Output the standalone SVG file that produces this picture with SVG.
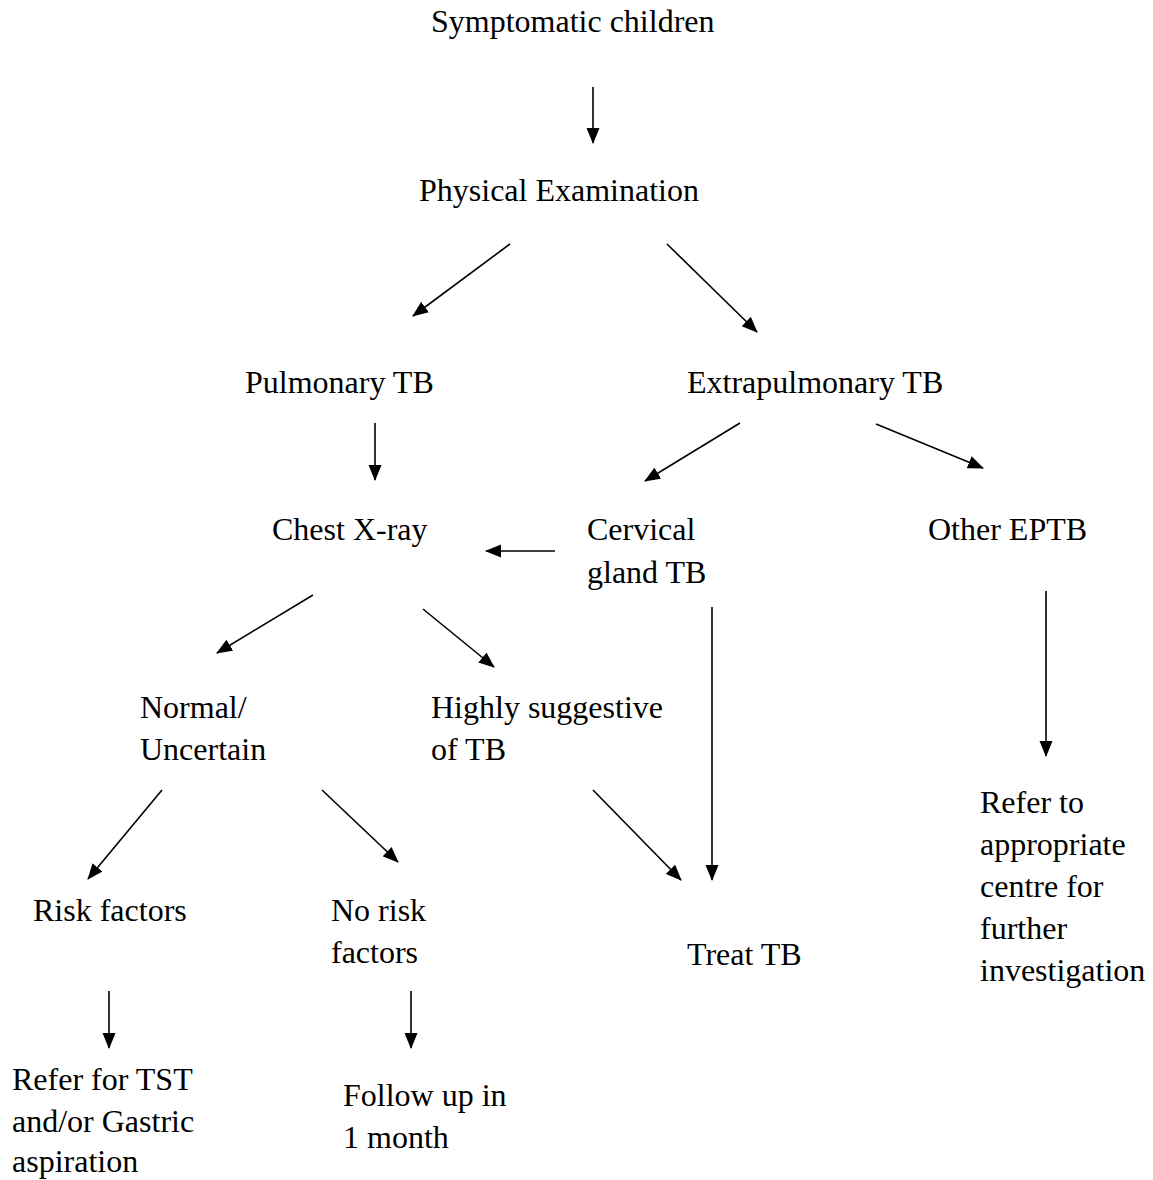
<svg xmlns="http://www.w3.org/2000/svg" width="1153" height="1180" viewBox="0 0 1153 1180">
<defs>
<style>
text{font-family:"Liberation Serif","Times New Roman",serif;font-size:32px;fill:#000}
.c{stroke:#000;stroke-width:1.6;fill:none;marker-end:url(#ah)}
</style>
<marker id="ah" markerUnits="userSpaceOnUse" markerWidth="16" markerHeight="14" refX="15" refY="7" orient="auto" viewBox="0 0 16 14">
<path d="M0,0.5 L16,7 L0,13.5 z" fill="#000"/>
</marker>
</defs>
<rect width="1153" height="1180" fill="#fff"/>
<g id="connectors">
<line class="c" x1="593" y1="87" x2="593" y2="143"/>
<line class="c" x1="510" y1="244" x2="413" y2="316"/>
<line class="c" x1="667" y1="244" x2="757" y2="332"/>
<line class="c" x1="375" y1="423" x2="375" y2="480"/>
<line class="c" x1="740" y1="423" x2="645" y2="481"/>
<line class="c" x1="876" y1="424" x2="983" y2="468"/>
<line class="c" x1="555" y1="551" x2="486" y2="551"/>
<line class="c" x1="313" y1="595" x2="217" y2="653"/>
<line class="c" x1="423" y1="609" x2="494" y2="667"/>
<line class="c" x1="712" y1="607" x2="712" y2="880"/>
<line class="c" x1="1046" y1="591" x2="1046" y2="756"/>
<line class="c" x1="162" y1="790" x2="88" y2="879"/>
<line class="c" x1="322" y1="790" x2="398" y2="862"/>
<line class="c" x1="593" y1="790" x2="681" y2="880"/>
<line class="c" x1="109" y1="991" x2="109" y2="1048"/>
<line class="c" x1="411" y1="991" x2="411" y2="1048"/>
</g>
<g id="symptomatic"><text x="431" y="32">Symptomatic children</text></g>
<g id="physical"><text x="419" y="201">Physical Examination</text></g>
<g id="pulmonary"><text x="245" y="393">Pulmonary TB</text></g>
<g id="extrapulmonary"><text x="687" y="393">Extrapulmonary TB</text></g>
<g id="chestxray"><text x="272" y="540">Chest X-ray</text></g>
<g id="cervical"><text x="587" y="540">Cervical</text><text x="587" y="583">gland TB</text></g>
<g id="other"><text x="928" y="540">Other EPTB</text></g>
<g id="normal"><text x="140" y="718">Normal/</text><text x="140" y="760">Uncertain</text></g>
<g id="highly"><text x="431" y="718">Highly suggestive</text><text x="431" y="760">of TB</text></g>
<g id="risk"><text x="33" y="921">Risk factors</text></g>
<g id="norisk"><text x="331" y="921">No risk</text><text x="331" y="963">factors</text></g>
<g id="treat"><text x="687" y="965">Treat TB</text></g>
<g id="referto"><text x="980" y="813">Refer to</text><text x="980" y="855">appropriate</text><text x="980" y="897">centre for</text><text x="980" y="939">further</text><text x="980" y="981">investigation</text></g>
<g id="refertst"><text x="12" y="1090">Refer for TST</text><text x="12" y="1132">and/or Gastric</text><text x="12" y="1172">aspiration</text></g>
<g id="followup"><text x="343" y="1106">Follow up in</text><text x="343" y="1148">1 month</text></g>
</svg>
